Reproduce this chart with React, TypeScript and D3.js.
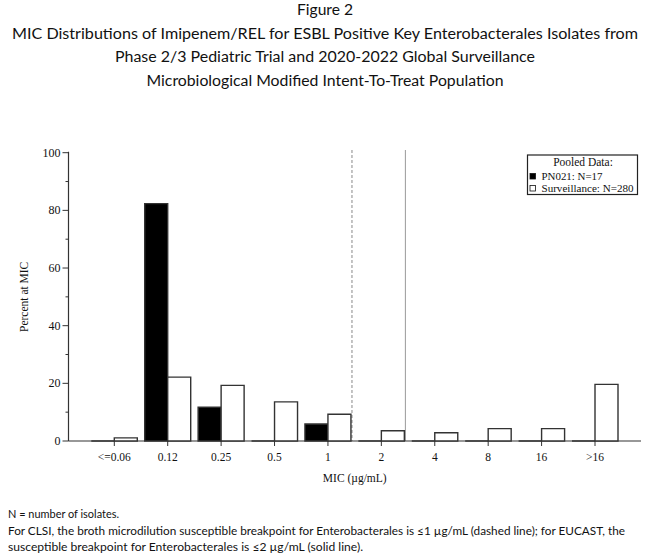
import * as d3 from "d3";
import { useMemo } from "react";

const width = 650;
const height = 559;

const micLabels = ["<=0.06", "0.12", "0.25", "0.5", "1", "2", "4", "8", "16", ">16"];
// percent of isolates at each MIC
const trialPercent = [0, 82.35, 11.76, 0, 5.88, 0, 0, 0, 0, 0];
const survPercent = [1.07, 22.14, 19.29, 13.57, 9.29, 3.57, 2.86, 4.29, 4.29, 19.64];
const yTicksMajor = [0, 20, 40, 60, 80, 100];
const yTicksMinor = [10, 30, 50, 70, 90];

const titleLines = [
  { text: "Figure 2", len: 56 },
  { text: "MIC Distributions of Imipenem/REL for ESBL Positive Key Enterobacterales Isolates from", len: 626 },
  { text: "Phase 2/3 Pediatric Trial and 2020-2022 Global Surveillance", len: 420 },
  { text: "Microbiological Modified Intent-To-Treat Population", len: 357 },
];

const footnotes = [
  { text: "N = number of isolates.", len: 111 },
  { text: "For CLSI, the broth microdilution susceptible breakpoint for Enterobacterales is \u22641 \u00b5g/mL (dashed line); for EUCAST, the", len: 617 },
  { text: "susceptible breakpoint for Enterobacterales is \u22642 \u00b5g/mL (solid line).", len: 355 },
];

const legendItems = [
  { label: "PN021: N=17", fill: "#000", len: 61 },
  { label: "Surveillance: N=280", fill: "#fff", len: 92 },
];

const serif = "'Liberation Serif', 'Times New Roman', serif";
const sans = "Lato, 'Noto Sans', sans-serif";

// open-bottomed bar outline so zero-height bars still show as a flat stroke
function barPath(x0: number, w: number, top: number, base: number) {
  const p = d3.path();
  p.moveTo(x0, base);
  p.lineTo(x0, top);
  p.lineTo(x0 + w, top);
  p.lineTo(x0 + w, base);
  p.closePath();
  return p.toString();
}

export default function App() {
  const chart = useMemo(() => {
    const x = d3.scalePoint<string>().domain(micLabels).range([114.3, 595]);
    const y = d3.scaleLinear().domain([0, 100]).range([441, 152.7]);
    const step = x.step();
    const barW = 23;
    return { x, y, step, barW };
  }, []);

  const { x, y, step, barW } = chart;
  const axisLeft = 68.5;
  const axisRight = 641;
  const base = y(0);

  return (
    <svg
      width={width}
      height={height}
      style={{ position: "absolute", left: 0, top: 0, background: "#fff" }}
    >
      <rect width={width} height={height} fill="#fff" />

      {titleLines.map((line, i) => (
        <text
          key={line.text}
          x={width / 2}
          y={15 + i * 23.5}
          textAnchor="middle"
          fontFamily={sans}
          fontSize={15.5}
          fill="#111"
          textLength={line.len}
          lengthAdjust="spacingAndGlyphs"
        >
          {line.text}
        </text>
      ))}

      {/* breakpoint markers: CLSI (dashed) and EUCAST (solid) */}
      <line
        x1={x("1")! + step * 0.45}
        x2={x("1")! + step * 0.45}
        y1={150}
        y2={base}
        stroke="#888"
        strokeWidth={1}
        strokeDasharray="3 2"
      />
      <line
        x1={x("2")! + step * 0.45}
        x2={x("2")! + step * 0.45}
        y1={150}
        y2={base}
        stroke="#999"
        strokeWidth={1}
      />

      {/* x axis baseline under the bars */}
      <line x1={axisLeft} x2={axisRight} y1={base} y2={base} stroke="#333" strokeWidth={1.2} />

      {micLabels.map((mic, i) => (
        <g key={mic}>
          <path
            d={barPath(x(mic)! - barW, barW, y(trialPercent[i]), base)}
            fill="#000"
            stroke="#333"
            strokeWidth={1.4}
          />
          <path
            d={barPath(x(mic)!, barW, y(survPercent[i]), base)}
            fill="#fff"
            stroke="#333"
            strokeWidth={1.4}
          />
        </g>
      ))}

      {/* y axis */}
      <line x1={axisLeft} x2={axisLeft} y1={y(100) - 1} y2={base} stroke="#333" strokeWidth={1.2} />
      {yTicksMajor.map((t) => (
        <g key={`ym-${t}`} transform={`translate(0, ${y(t)})`}>
          <line x1={axisLeft - 6} x2={axisLeft} stroke="#333" strokeWidth={1} />
          <text
            x={axisLeft - 8}
            dy="0.33em"
            textAnchor="end"
            fontFamily={serif}
            fontSize={12}
            fill="#111"
          >
            {t}
          </text>
        </g>
      ))}
      {yTicksMinor.map((t) => (
        <line
          key={`yn-${t}`}
          x1={axisLeft - 3}
          x2={axisLeft}
          y1={y(t)}
          y2={y(t)}
          stroke="#333"
          strokeWidth={1}
        />
      ))}
      <text
        transform={`translate(28, ${(y(100) + base) / 2}) rotate(-90)`}
        textAnchor="middle"
        fontFamily={serif}
        fontSize={11.5}
        fill="#111"
      >
        Percent at MIC
      </text>

      {micLabels.map((mic) => (
        <g key={`xt-${mic}`} transform={`translate(${x(mic)}, ${base})`}>
          <line y1={0} y2={5} stroke="#333" strokeWidth={1} />
          <text y={20} textAnchor="middle" fontFamily={serif} fontSize={11.5} fill="#111">
            {mic}
          </text>
        </g>
      ))}
      <text
        x={(axisLeft + axisRight) / 2}
        y={481.5}
        textAnchor="middle"
        fontFamily={serif}
        fontSize={11.5}
        fill="#111"
      >
        MIC (µg/mL)
      </text>

      {/* legend */}
      <g>
        <rect x={527.5} y={155} width={110} height={39.5} fill="#fff" stroke="#222" strokeWidth={1.2} />
        <text x={583} y={166} textAnchor="middle" fontFamily={serif} fontSize={11.5} fill="#111">
          Pooled Data:
        </text>
        {legendItems.map((item, i) => (
          <g key={item.label} transform={`translate(530, ${173.5 + i * 12})`}>
            <rect width={5.5} height={5.5} fill={item.fill} stroke="#111" strokeWidth={0.8} />
            <text
              x={11.5}
              y={6}
              fontFamily={serif}
              fontSize={11}
              fill="#111"
              textLength={item.len}
              lengthAdjust="spacingAndGlyphs"
            >
              {item.label}
            </text>
          </g>
        ))}
      </g>

      {footnotes.map((line, i) => (
        <text
          key={line.text}
          x={8}
          y={518 + i * 16.5}
          fontFamily={sans}
          fontSize={11.5}
          fill="#111"
          textLength={line.len}
          lengthAdjust="spacingAndGlyphs"
        >
          {line.text}
        </text>
      ))}
    </svg>
  );
}
